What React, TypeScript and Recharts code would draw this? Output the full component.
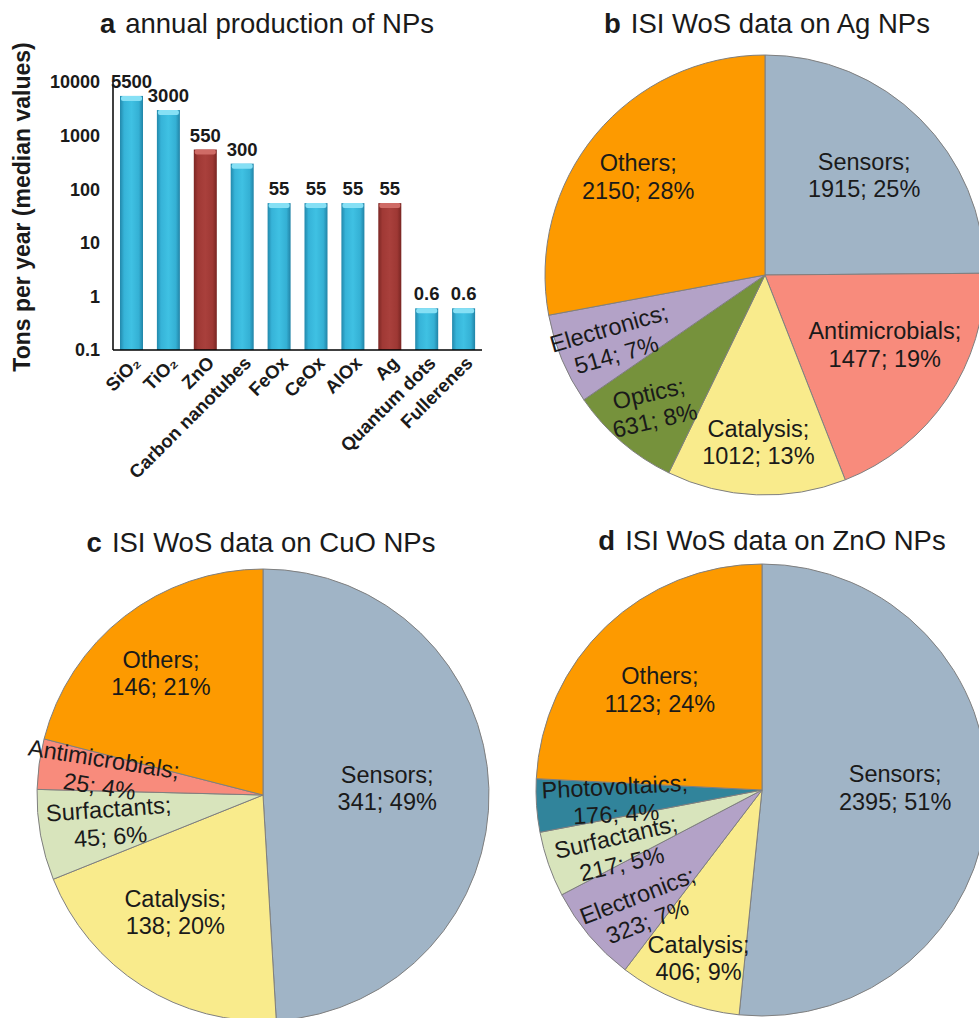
import React from 'react';
import { BarChart, Bar, XAxis, YAxis, LabelList, PieChart, Pie, Cell } from 'recharts';

// panel a: annual production (median tons per year)
const materials = ['SiO₂', 'TiO₂', 'ZnO', 'Carbon nanotubes', 'FeOx', 'CeOx', 'AlOx', 'Ag', 'Quantum dots', 'Fullerenes'];
const medianTons = [5500, 3000, 550, 300, 55, 55, 55, 55, 0.6, 0.6];
const focusMaterials = ['ZnO', 'Ag'];
const tonTicks = [0.1, 1, 10, 100, 1000, 10000];

// panel b: Ag NPs
const agTopics = ['Sensors', 'Antimicrobials', 'Catalysis', 'Optics', 'Electronics', 'Others'];
const agRecords = [1915, 1477, 1012, 631, 514, 2150];
const agShares = [25, 19, 13, 8, 7, 28];

// panel c: CuO NPs
const cuoTopics = ['Sensors', 'Catalysis', 'Surfactants', 'Antimicrobials', 'Others'];
const cuoRecords = [341, 138, 45, 25, 146];
const cuoShares = [49, 20, 6, 4, 21];

// panel d: ZnO NPs
const znoTopics = ['Sensors', 'Catalysis', 'Electronics', 'Surfactants', 'Photovoltaics', 'Others'];
const znoRecords = [2395, 406, 323, 217, 176, 1123];
const znoShares = [51, 9, 7, 5, 4, 24];

const TOPIC_COLORS: Record<string, string> = {
  Sensors: '#a0b4c6',
  Others: '#fd9a00',
  Antimicrobials: '#f88b7c',
  Catalysis: '#f9eb8c',
  Optics: '#76923c',
  Electronics: '#b3a2c7',
  Surfactants: '#d8e4bc',
  Photovoltaics: '#31849b',
};

// label placement: fraction of radius along the slice middle, tilt, small pixel nudges
type Spot = { r: number; tilt: number; dx?: number; dy?: number };
const agLabelSpots: Record<string, Spot> = {
  Sensors: { r: 0.64, tilt: 0 },
  Antimicrobials: { r: 0.63, tilt: 0, dx: 5, dy: -8 },
  Catalysis: { r: 0.76, tilt: 0 },
  Optics: { r: 0.79, tilt: -13 },
  Electronics: { r: 0.75, tilt: -16, dy: 3 },
  Others: { r: 0.72, tilt: 0, dx: -5, dy: 3 },
};
const cuoLabelSpots: Record<string, Spot> = {
  Sensors: { r: 0.55, tilt: 0, dy: -3 },
  Catalysis: { r: 0.65, tilt: 0, dx: -9, dy: -7 },
  Surfactants: { r: 0.69, tilt: -4 },
  Antimicrobials: { r: 0.72, tilt: 9 },
  Others: { r: 0.7, tilt: 0, dx: -5, dy: 3 },
};
const znoLabelSpots: Record<string, Spot> = {
  Sensors: { r: 0.59, tilt: 0, dy: -9 },
  Catalysis: { r: 0.8, tilt: 0, dx: 3 },
  Electronics: { r: 0.71, tilt: -21, dx: 3, dy: 15 },
  Surfactants: { r: 0.69, tilt: -13, dx: 4, dy: 9 },
  Photovoltaics: { r: 0.65, tilt: -3 },
  Others: { r: 0.63, tilt: 0, dx: -4, dy: 3 },
};

const TEXT = '#1a1a1a';
const FONT = 'Arial, "Liberation Sans", Helvetica, sans-serif';
const RAD = Math.PI / 180;

const productionData = materials.map((name, i) => ({ name, tons: medianTons[i] }));

const toSlices = (topics: string[], records: number[], shares: number[]) =>
  topics.map((topic, i) => ({ topic, count: records[i], share: shares[i] }));

function CylinderBar(props: any) {
  const { x, y, width, height, payload } = props;
  if (!height || height <= 0) return null;
  const hot = focusMaterials.includes(payload.name);
  return (
    <g>
      <rect x={x} y={y} width={width} height={height} fill={hot ? 'url(#barRed)' : 'url(#barBlue)'} />
      <rect
        x={x + 1}
        y={y}
        width={width - 2}
        height={Math.min(5, height)}
        rx={2}
        fill={hot ? '#cf6b66' : '#86e0f5'}
      />
    </g>
  );
}

function MaterialTick(props: any) {
  const { x, y, payload } = props;
  const ax = x + 1;
  const ay = y - 3;
  return (
    <text
      x={ax}
      y={ay}
      dy="0.7em"
      textAnchor="end"
      fontSize={18.5}
      fontWeight="bold"
      fill={TEXT}
      transform={`rotate(-45 ${ax} ${ay})`}
    >
      {payload.value}
    </text>
  );
}

function makeSliceLabel(spots: Record<string, Spot>) {
  return (props: any) => {
    const { cx, cy, midAngle, outerRadius } = props;
    const entry = props.payload ?? props;
    const spot = spots[entry.topic] ?? { r: 0.65, tilt: 0 };
    const x = cx + outerRadius * spot.r * Math.cos(-midAngle * RAD) + (spot.dx ?? 0);
    const y = cy + outerRadius * spot.r * Math.sin(-midAngle * RAD) + (spot.dy ?? 0);
    return (
      <text
        x={x}
        y={y}
        textAnchor="middle"
        fontSize={23.5}
        fill={TEXT}
        transform={spot.tilt ? `rotate(${spot.tilt} ${x} ${y})` : undefined}
      >
        <tspan x={x} dy={-5.5}>{entry.topic};</tspan>
        <tspan x={x} dy={27.5}>{`${entry.count}; ${entry.share}%`}</tspan>
      </text>
    );
  };
}

function TopicPie({
  data,
  spots,
  width,
  height,
  cx,
  cy,
  radius,
}: {
  data: { topic: string; count: number; share: number }[];
  spots: Record<string, Spot>;
  width: number;
  height: number;
  cx: number;
  cy: number;
  radius: number;
}) {
  return (
    <PieChart width={width} height={height} margin={{ top: 0, right: 0, bottom: 0, left: 0 }}>
      <Pie
        data={data}
        dataKey="count"
        nameKey="topic"
        cx={cx}
        cy={cy}
        outerRadius={radius}
        startAngle={90}
        endAngle={-270}
        stroke="#7f7f7f"
        strokeWidth={1}
        labelLine={false}
        label={makeSliceLabel(spots)}
        isAnimationActive={false}
      >
        {data.map((d) => (
          <Cell key={d.topic} fill={TOPIC_COLORS[d.topic]} />
        ))}
      </Pie>
    </PieChart>
  );
}

function PanelTitle({ x, y, letter, text }: { x: number; y: number; letter: string; text: string }) {
  return (
    <text x={x} y={y} textAnchor="middle" fontSize={27.5} fill={TEXT}>
      <tspan fontWeight="bold">{letter}</tspan>
      <tspan dx={10}>{text}</tspan>
    </text>
  );
}

export default function App() {
  return (
    <div
      style={{
        position: 'absolute',
        left: 0,
        top: 0,
        width: 979,
        height: 1018,
        overflow: 'hidden',
        background: '#fff',
        fontFamily: FONT,
      }}
    >
      <div style={{ position: 'absolute', left: 0, top: 0 }}>
        <BarChart
          width={500}
          height={500}
          data={productionData}
          margin={{ top: 82, right: 18, bottom: 10, left: 60 }}
          barSize={23}
        >
          <defs>
            <linearGradient id="barBlue" x1="0" y1="0" x2="1" y2="0">
              <stop offset="0%" stopColor="#2288ab" />
              <stop offset="18%" stopColor="#36b3d8" />
              <stop offset="50%" stopColor="#3fc1e3" />
              <stop offset="82%" stopColor="#34b0d4" />
              <stop offset="100%" stopColor="#2183a6" />
            </linearGradient>
            <linearGradient id="barRed" x1="0" y1="0" x2="1" y2="0">
              <stop offset="0%" stopColor="#7c2724" />
              <stop offset="18%" stopColor="#a03935" />
              <stop offset="50%" stopColor="#a9403c" />
              <stop offset="82%" stopColor="#9e3834" />
              <stop offset="100%" stopColor="#782522" />
            </linearGradient>
          </defs>
          <XAxis
            dataKey="name"
            interval={0}
            height={140}
            axisLine={{ stroke: '#000', strokeWidth: 1.5 }}
            tickLine={false}
            tick={<MaterialTick />}
          />
          <YAxis
            type="number"
            scale="log"
            domain={[0.1, 10000]}
            ticks={tonTicks}
            allowDataOverflow
            width={53}
            axisLine={{ stroke: '#000', strokeWidth: 1.5 }}
            tickLine={false}
            tickSize={0}
            tickMargin={13}
            tick={{ fill: TEXT, fontSize: 18, fontWeight: 'bold' }}
            tickFormatter={(v: number) => String(v)}
            label={{
              content: () => (
                <text
                  x={22}
                  y={207}
                  textAnchor="middle"
                  dominantBaseline="central"
                  fontSize={23}
                  fontWeight="bold"
                  fill={TEXT}
                  transform="rotate(-90 22 207)"
                >
                  Tons per year (median values)
                </text>
              ),
            }}
          />
          <Bar dataKey="tons" shape={<CylinderBar />} isAnimationActive={false}>
            <LabelList
              dataKey="tons"
              position="top"
              offset={8}
              fill={TEXT}
              fontSize={18.5}
              fontWeight="bold"
            />
          </Bar>
        </BarChart>
      </div>

      <div style={{ position: 'absolute', left: 530, top: 0 }}>
        <TopicPie
          data={toSlices(agTopics, agRecords, agShares)}
          spots={agLabelSpots}
          width={480}
          height={500}
          cx={235}
          cy={275}
          radius={220}
        />
      </div>

      <div style={{ position: 'absolute', left: 0, top: 500 }}>
        <TopicPie
          data={toSlices(cuoTopics, cuoRecords, cuoShares)}
          spots={cuoLabelSpots}
          width={500}
          height={530}
          cx={263}
          cy={295}
          radius={226}
        />
      </div>

      <div style={{ position: 'absolute', left: 500, top: 500 }}>
        <TopicPie
          data={toSlices(znoTopics, znoRecords, znoShares)}
          spots={znoLabelSpots}
          width={500}
          height={530}
          cx={262}
          cy={290}
          radius={226}
        />
      </div>

      <svg
        width={979}
        height={1018}
        style={{ position: 'absolute', left: 0, top: 0, pointerEvents: 'none' }}
      >
        <PanelTitle x={267} y={33} letter="a" text="annual production of NPs" />
        <PanelTitle x={767} y={33} letter="b" text="ISI WoS data on Ag NPs" />
        <PanelTitle x={261} y={552} letter="c" text="ISI WoS data on CuO NPs" />
        <PanelTitle x={772} y={550} letter="d" text="ISI WoS data on ZnO NPs" />
      </svg>
    </div>
  );
}
